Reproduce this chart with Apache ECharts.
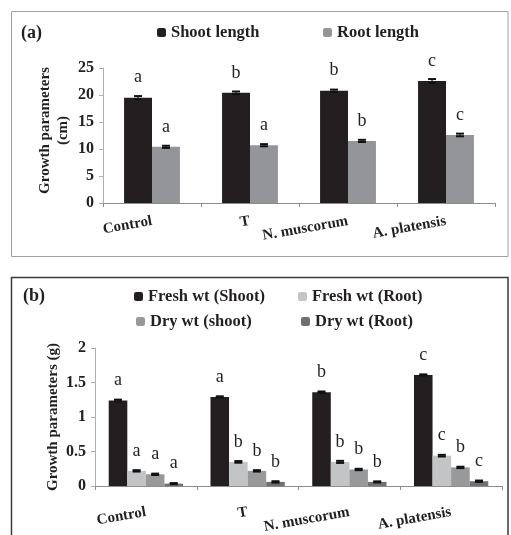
<!DOCTYPE html>
<html>
<head>
<meta charset="utf-8">
<script src="https://cdn.jsdelivr.net/npm/echarts@6/dist/echarts.min.js"></script>
<style>
html,body{margin:0;padding:0;background:#fff;}
#chart{width:511px;height:535px;}
</style>
</head>
<body>
<div id="chart"></div>
<script>
// ---- data ----
var categories = ['Control', 'T', 'N. muscorum', 'A. platensis'];

// panel (a) lengths (cm)
var shootLength = [19.5, 20.4, 20.8, 22.6];
var shootLengthErr = [0.3, 0.25, 0.2, 0.35];
var shootLengthLetters = ['a', 'b', 'b', 'c'];
var rootLength = [10.4, 10.7, 11.5, 12.6];
var rootLengthErr = [0.2, 0.2, 0.2, 0.25];
var rootLengthLetters = ['a', 'a', 'b', 'c'];
var yTicksA = [0, 5, 10, 15, 20, 25];

// panel (b) weights (g)
var freshShoot = [1.24, 1.29, 1.36, 1.61];
var freshShootErr = [0.012, 0.01, 0.01, 0.008];
var freshShootLetters = ['a', 'a', 'b', 'c'];
var freshRoot = [0.22, 0.35, 0.35, 0.44];
var freshRootErr = [0.01, 0.012, 0.015, 0.012];
var freshRootLetters = ['a', 'b', 'b', 'c'];
var dryShoot = [0.17, 0.22, 0.24, 0.27];
var dryShootErr = [0.01, 0.01, 0.01, 0.01];
var dryShootLetters = ['a', 'b', 'b', 'b'];
var dryRoot = [0.035, 0.06, 0.06, 0.07];
var dryRootErr = [0.008, 0.01, 0.008, 0.01];
var dryRootLetters = ['a', 'b', 'b', 'c'];
var yTicksB = [0, 0.5, 1, 1.5, 2];

// ---- styling ----
var SERIF = '"Liberation Serif", "Times New Roman", serif';
var C_BLACK = '#231f20';
var C_GRAY_A = '#939598';
var C_LIGHT = '#c3c4c6';
var C_MID = '#98999b';
var C_DARK = '#6f7073';

function letterLabel(letters) {
  return {
    show: true, position: 'top', distance: 11,
    fontFamily: SERIF, fontSize: 18, color: '#231f20',
    formatter: function (p) { return letters[p.dataIndex]; }
  };
}

function barSeries(name, data, color, letters, axisIdx, gap) {
  return {
    name: name, type: 'bar', xAxisIndex: axisIdx, yAxisIndex: axisIdx,
    data: data, barGap: '0%', barCategoryGap: gap,
    itemStyle: { color: color },
    label: letterLabel(letters), z: 2
  };
}

// error bars drawn through the axes' own coordinate system
function errorSeries(values, errs, k, n, gapPct, axisIdx) {
  var data = values.map(function (v, i) { return [i, v, errs[i]]; });
  return {
    type: 'custom', xAxisIndex: axisIdx, yAxisIndex: axisIdx, z: 5,
    silent: true,
    data: data,
    renderItem: function (params, api) {
      var ci = api.value(0), v = api.value(1), e = api.value(2);
      var band = api.size([1, 0])[0];
      var inner = band * (1 - gapPct);
      var bw = inner / n;
      var c = api.coord([ci, v]);
      var cx = c[0] - inner / 2 + (k + 0.5) * bw;
      var hi = api.coord([ci, v + e])[1];
      var lo = api.coord([ci, v - e])[1];
      var half = 4;
      var st = { stroke: '#111', lineWidth: 2 };
      return {
        type: 'group',
        children: [
          { type: 'line', shape: { x1: cx, y1: hi, x2: cx, y2: lo }, style: { stroke: '#111', lineWidth: 1 } },
          { type: 'line', shape: { x1: cx - half, y1: hi, x2: cx + half, y2: hi }, style: st },
          { type: 'line', shape: { x1: cx - half, y1: lo, x2: cx + half, y2: lo }, style: st }
        ]
      };
    }
  };
}

var axisLabelX = function (margin) {
  return {
    rotate: 10, margin: margin, interval: 0,
    fontFamily: SERIF, fontWeight: 'bold', fontSize: 15, color: '#231f20'
  };
};

var legendText = { fontFamily: SERIF, fontWeight: 'bold', fontSize: 16.5, color: '#231f20' };
function oneLegend(name, left, top) {
  return {
    data: [name], left: left, top: top, itemWidth: 9, itemHeight: 9,
    itemGap: 0, padding: 0, textStyle: legendText, selectedMode: false
  };
}

var option = {
  animation: false,
  backgroundColor: '#fff',
  title: [
    { text: '(a)', left: 21, top: 24, padding: 0,
      textStyle: { fontFamily: SERIF, fontWeight: 'bold', fontSize: 18, color: '#231f20' } },
    { text: '(b)', left: 23, top: 287, padding: 0,
      textStyle: { fontFamily: SERIF, fontWeight: 'bold', fontSize: 18, color: '#231f20' } }
  ],
  legend: [
    oneLegend('Shoot length', 157, 24),
    oneLegend('Root length', 323, 24),
    oneLegend('Fresh wt (Shoot)', 134, 288),
    oneLegend('Fresh wt (Root)', 298, 288),
    oneLegend('Dry wt (shoot)', 136, 313),
    oneLegend('Dry wt (Root)', 301, 313)
  ],
  graphic: [
    { type: 'rect', shape: { x: 11.5, y: 11.5, width: 496.5, height: 245 },
      style: { fill: 'none', stroke: '#a0a0a0', lineWidth: 1 }, z: -1 },
    { type: 'rect', shape: { x: 11.5, y: 277.5, width: 496.5, height: 270 },
      style: { fill: 'none', stroke: '#3a3a3a', lineWidth: 1.5 }, z: -1 }
  ],
  grid: [
    { left: 103, right: 16, top: 68, height: 135 },
    { left: 95, right: 9, top: 348, height: 146 }
  ],
  xAxis: [
    { type: 'category', gridIndex: 0, data: categories,
      axisLine: { lineStyle: { color: '#8c8c8c' } },
      axisTick: { show: true, length: 4, lineStyle: { color: '#8c8c8c' } },
      axisLabel: axisLabelX(18) },
    { type: 'category', gridIndex: 1, data: categories,
      axisLine: { lineStyle: { color: '#8c8c8c' } },
      axisTick: { show: true, length: 4, lineStyle: { color: '#8c8c8c' } },
      axisLabel: axisLabelX(26) }
  ],
  yAxis: [
    { type: 'value', gridIndex: 0, min: yTicksA[0], max: yTicksA[yTicksA.length - 1], interval: 5,
      name: 'Growth parameters\n(cm)', nameLocation: 'middle', nameGap: 31, nameRotate: 90,
      nameMoveOverlap: false,
      nameTextStyle: { fontFamily: SERIF, fontWeight: 'bold', fontSize: 15, color: '#231f20', lineHeight: 18, padding: [0, 0, 0, 10] },
      axisLine: { show: true, lineStyle: { color: '#b0b0b0' } },
      axisTick: { show: true, length: 4, lineStyle: { color: '#b0b0b0' } },
      splitLine: { show: false },
      axisLabel: { margin: 9, fontFamily: SERIF, fontWeight: 'bold', fontSize: 16, color: '#231f20' } },
    { type: 'value', gridIndex: 1, min: yTicksB[0], max: yTicksB[yTicksB.length - 1], interval: 0.5,
      name: 'Growth parameters (g)', nameLocation: 'middle', nameGap: 34, nameRotate: 90,
      nameMoveOverlap: false,
      nameTextStyle: { fontFamily: SERIF, fontWeight: 'bold', fontSize: 15, color: '#231f20' },
      axisLine: { show: true, lineStyle: { color: '#b0b0b0' } },
      axisTick: { show: true, length: 4, lineStyle: { color: '#b0b0b0' } },
      splitLine: { show: false },
      axisLabel: { margin: 9, fontFamily: SERIF, fontWeight: 'bold', fontSize: 16, color: '#231f20' } }
  ],
  series: [
    barSeries('Shoot length', shootLength, C_BLACK, shootLengthLetters, 0, '43%'),
    barSeries('Root length', rootLength, C_GRAY_A, rootLengthLetters, 0, '43%'),
    errorSeries(shootLength, shootLengthErr, 0, 2, 0.43, 0),
    errorSeries(rootLength, rootLengthErr, 1, 2, 0.43, 0),

    barSeries('Fresh wt (Shoot)', freshShoot, C_BLACK, freshShootLetters, 1, '27%'),
    barSeries('Fresh wt (Root)', freshRoot, C_LIGHT, freshRootLetters, 1, '27%'),
    barSeries('Dry wt (shoot)', dryShoot, C_MID, dryShootLetters, 1, '27%'),
    barSeries('Dry wt (Root)', dryRoot, C_DARK, dryRootLetters, 1, '27%'),
    errorSeries(freshShoot, freshShootErr, 0, 4, 0.27, 1),
    errorSeries(freshRoot, freshRootErr, 1, 4, 0.27, 1),
    errorSeries(dryShoot, dryShootErr, 2, 4, 0.27, 1),
    errorSeries(dryRoot, dryRootErr, 3, 4, 0.27, 1)
  ]
};

var chart = echarts.init(document.getElementById('chart'), null, { renderer: 'canvas' });
chart.setOption(option);
</script>
</body>
</html>
